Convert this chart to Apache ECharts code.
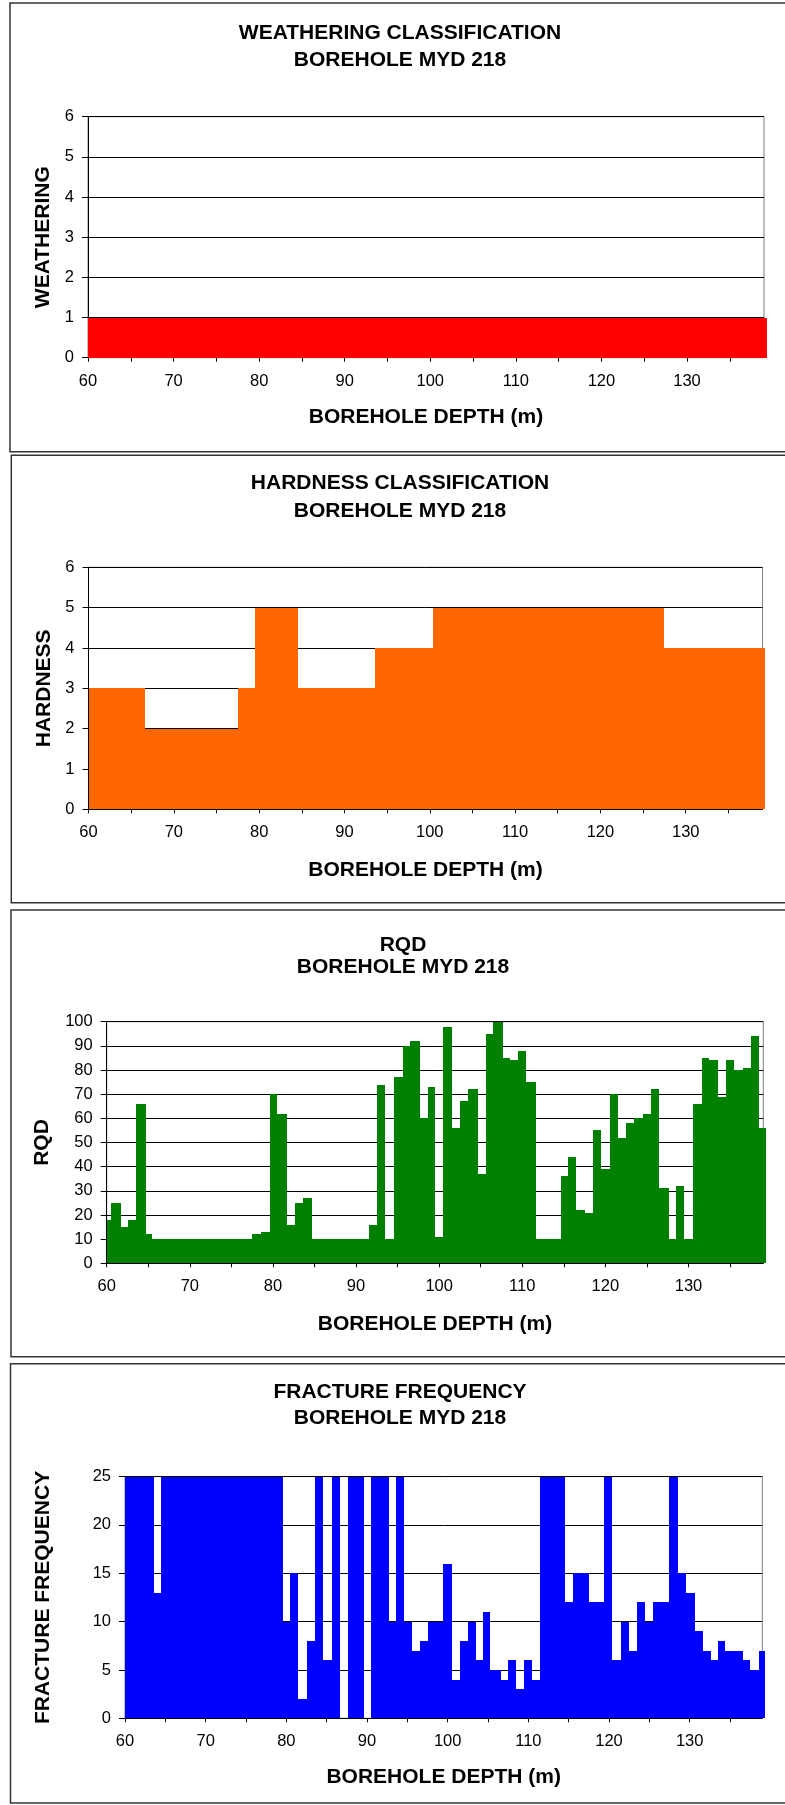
<!DOCTYPE html>
<html>
<head>
<meta charset="utf-8">
<script src="https://cdn.jsdelivr.net/npm/echarts@6/dist/echarts.min.js"></script>
<style>
html,body{margin:0;padding:0;background:#fff;}
#c{width:785px;height:1805px;}
</style>
</head>
<body>
<div id="c"></div>
<script>
// ---------- DATA ----------
const depthLabels = [60, 70, 80, 90, 100, 110, 120, 130];
const depthMinorTicks = [60, 65, 70, 75, 80, 85, 90, 95, 100, 105, 110, 115, 120, 125, 130, 135];

const chartTitles = ['WEATHERING CLASSIFICATION', 'HARDNESS CLASSIFICATION', 'RQD', 'FRACTURE FREQUENCY'];
const subTitle = 'BOREHOLE MYD 218';
const yTitles = ['WEATHERING', 'HARDNESS', 'RQD', 'FRACTURE FREQUENCY'];
const xTitle = 'BOREHOLE DEPTH (m)';

const weatheringBounds = [60, 139.4];
const weatheringValues = [1];

const hardnessBounds = [60, 66.6, 77.5, 79.5, 84.6, 93.6, 100.4, 127.5, 139.3];
const hardnessValues = [3, 2, 3, 5, 3, 4, 5, 4];

const rqdBounds = [60, 60.5, 61.7, 62.6, 63.5, 64.7, 65.5, 77.5, 78.6, 79.6, 80.5, 81.7, 82.6, 83.6, 84.7,
  91.6, 92.5, 93.5, 94.6, 95.6, 96.5, 97.7, 98.6, 99.5, 100.5, 101.6, 102.5, 103.5, 104.7, 105.6,
  106.5, 107.7, 108.5, 109.5, 110.5, 111.7, 114.6, 115.5, 116.5, 117.6, 118.5, 119.5, 120.6, 121.5,
  122.5, 123.5, 124.5, 125.5, 126.5, 127.7, 128.5, 129.5, 130.6, 131.6, 132.5, 133.5, 134.5, 135.5,
  136.5, 137.5, 138.5, 139.3];
const rqdValues = [18, 25, 15, 18, 66, 12, 10, 12, 13, 70, 62, 16, 25, 27,
  10, 16, 74, 10, 77, 90, 92, 60, 73, 11, 98, 56, 67, 72, 37,
  95, 100, 85, 84, 88, 75, 10, 36, 44, 22, 21, 55, 39, 70,
  52, 58, 60, 62, 72, 31, 10, 32, 10, 66, 85, 84, 69, 84,
  80, 81, 94, 56];

const fractureBounds = [60, 63.6, 64.5, 79.6, 80.5, 81.5, 82.5, 83.5, 84.5, 85.6, 86.6, 87.6, 89.6, 90.5,
  92.7, 93.6, 94.6, 95.6, 96.6, 97.5, 99.4, 100.5, 101.5, 102.5, 103.5, 104.4, 105.3, 106.6, 107.5,
  108.5, 109.4, 110.4, 111.4, 114.5, 115.5, 117.5, 119.4, 120.4, 121.5, 122.5, 123.5, 124.5, 125.5,
  127.4, 128.6, 129.6, 130.6, 131.6, 132.6, 133.5, 134.4, 136.6, 137.5, 138.6, 139.3];
const fractureValues = [25, 13, 25, 10, 15, 2, 8, 25, 6, 25, 0, 25, 0,
  25, 10, 25, 10, 7, 8, 10, 16, 4, 8, 10, 6, 11, 5, 4,
  6, 3, 6, 4, 25, 12, 15, 12, 25, 6, 10, 7, 12, 10,
  12, 25, 15, 13, 9, 7, 6, 8, 7, 6, 5, 7];

// ---------- LAYOUT / STYLE ----------
const FONT = 'Liberation Sans, Arial, sans-serif';
const colors = ['#FF0000', '#FF6600', '#008000', '#0000FF'];
const yRanges = [[0, 6, 1], [0, 6, 1], [0, 100, 10], [0, 25, 5]];
const grids = [
  {left: 88, top: 116.7, width: 676, height: 241},
  {left: 88.5, top: 567.3, width: 674, height: 242},
  {left: 106.7, top: 1021.7, width: 656.6, height: 241.6},
  {left: 125, top: 1476.6, width: 637.3, height: 241.7}
];
const yNameGaps = [33.5, 33.5, 53.7, 71];
const xNameGaps = [49.5, 50, 50.5, 48.5];
const titleY = [[33.3, 60.7], [483.3, 511.7], [945, 967], [1392, 1418]];
const titleX = [400, 400, 403, 400];
const frames = [
  [10, 3, 800, 448.7],
  [11.3, 455.3, 800, 447.4],
  [11, 910, 800, 446.7],
  [10.5, 1363.7, 800, 439.3]
];

function intervals(b, v) { return v.map((val, i) => [b[i], b[i + 1], val]); }
const seriesData = [
  intervals(weatheringBounds, weatheringValues),
  intervals(hardnessBounds, hardnessValues),
  intervals(rqdBounds, rqdValues),
  intervals(fractureBounds, fractureValues)
];

function renderBars(params, api) {
  const a = api.coord([api.value(0), api.value(2)]);
  const b = api.coord([api.value(1), 0]);
  const x0 = Math.round(a[0]), x1 = Math.round(b[0]);
  const y0 = Math.round(a[1]), y1 = Math.round(b[1]);
  return {
    type: 'rect',
    shape: {x: x0, y: y0, width: x1 - x0, height: y1 - y0},
    style: {fill: api.visual('color')}
  };
}

const option = {
  animation: false,
  backgroundColor: '#fff',
  grid: grids.map(g => Object.assign({show: true, backgroundColor: '#fff', borderColor: '#808080', borderWidth: 1}, g)),
  xAxis: grids.map((g, i) => ({
    type: 'value', gridIndex: i, min: 60, max: 139, interval: 5,
    name: xTitle, nameLocation: 'middle', nameGap: xNameGaps[i],
    nameTextStyle: {fontFamily: FONT, fontWeight: 'bold', fontSize: 21, color: '#000'},
    axisLine: {show: true, onZero: false, lineStyle: {color: '#000', width: 1}},
    axisTick: {show: true, length: 4, customValues: depthMinorTicks, lineStyle: {color: '#000'}},
    axisLabel: {
      show: true, margin: 15, fontFamily: FONT, fontSize: 16.5, color: '#000',
      customValues: depthLabels,
      formatter: v => (depthLabels.indexOf(v) >= 0 ? String(v) : '')
    },
    splitLine: {show: false}
  })),
  yAxis: grids.map((g, i) => ({
    type: 'value', gridIndex: i, min: yRanges[i][0], max: yRanges[i][1], interval: yRanges[i][2],
    name: yTitles[i], nameLocation: 'middle', nameGap: yNameGaps[i], nameRotate: 90,
    nameTextStyle: {fontFamily: FONT, fontWeight: 'bold', fontSize: 21, color: '#000'},
    axisLine: {show: true, lineStyle: {color: '#000', width: 1}},
    axisTick: {show: true, length: 6, lineStyle: {color: '#000'}},
    axisLabel: {show: true, margin: 14, fontFamily: FONT, fontSize: 16.5, color: '#000'},
    splitLine: {show: true, lineStyle: {color: '#000', width: 1}}
  })),
  series: seriesData.map((d, i) => ({
    type: 'custom', xAxisIndex: i, yAxisIndex: i,
    renderItem: renderBars, clip: false,
    itemStyle: {color: colors[i]},
    encode: {x: [0, 1], y: 2},
    data: d
  })),
  graphic: [].concat(
    frames.map(f => ({
      type: 'rect', z: -1, silent: true,
      shape: {x: f[0], y: f[1], width: f[2], height: f[3]},
      style: {fill: 'none', stroke: '#333', lineWidth: 1.5}
    })),
    chartTitles.map((t, i) => ({
      type: 'text', silent: true, x: titleX[i], y: titleY[i][0],
      style: {text: t, align: 'center', verticalAlign: 'middle', fill: '#000',
        font: 'bold 21px ' + FONT}
    })),
    chartTitles.map((t, i) => ({
      type: 'text', silent: true, x: titleX[i], y: titleY[i][1],
      style: {text: subTitle, align: 'center', verticalAlign: 'middle', fill: '#000',
        font: 'bold 21px ' + FONT}
    }))
  )
};

const chart = echarts.init(document.getElementById('c'), null, {renderer: 'canvas'});
chart.setOption(option);
</script>
</body>
</html>
